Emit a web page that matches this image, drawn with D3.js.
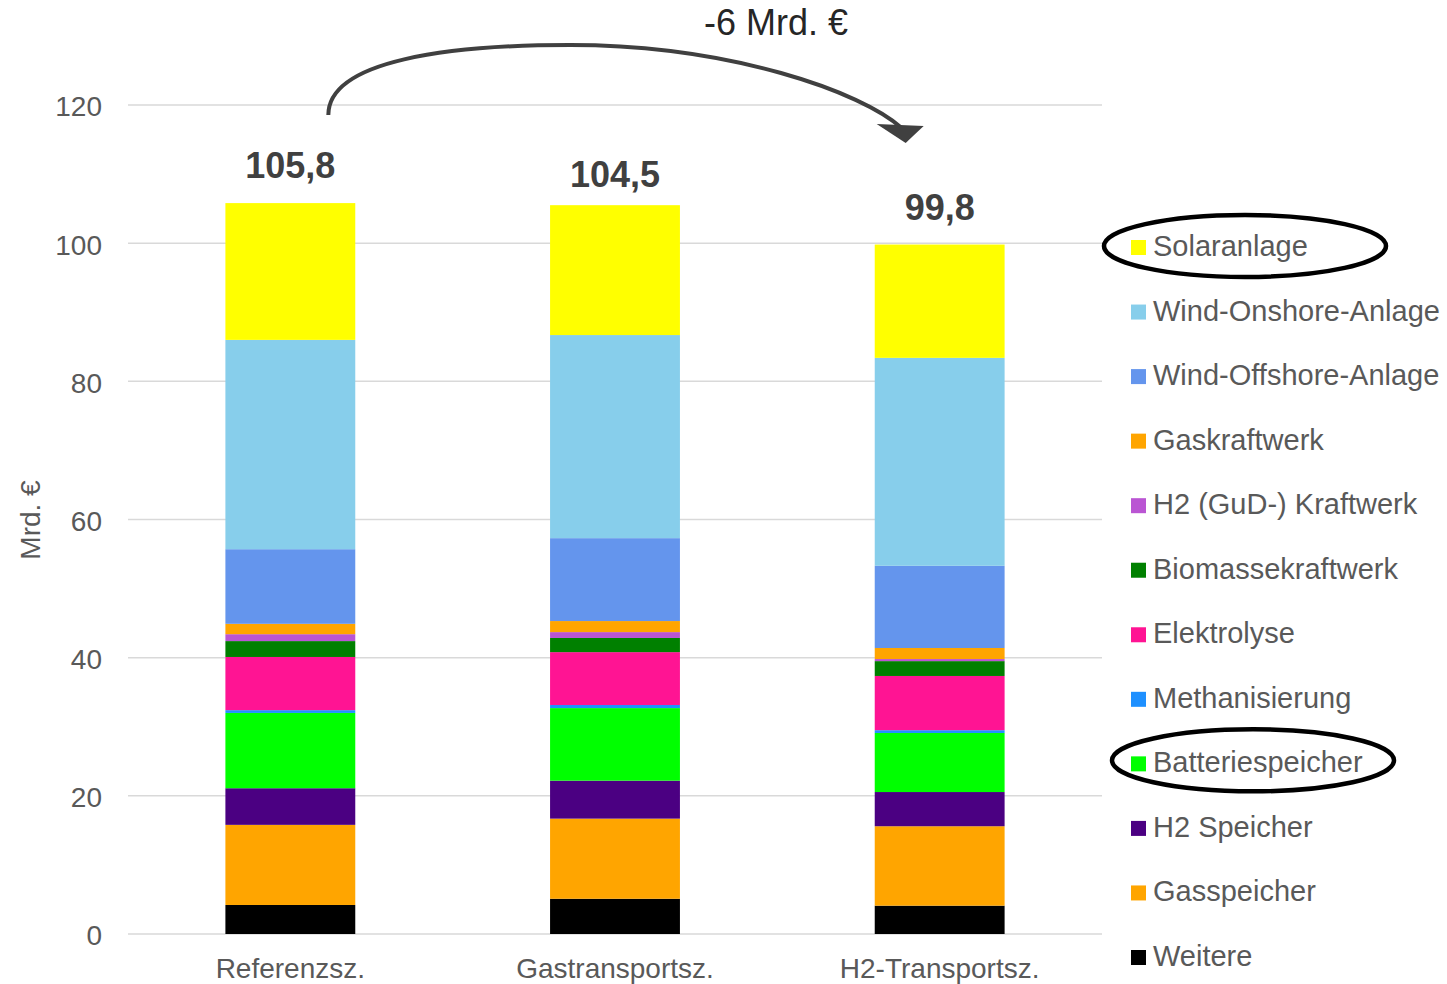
<!DOCTYPE html>
<html lang="de">
<head>
<meta charset="utf-8">
<title>Kosten nach Szenario</title>
<script src="https://cdn.jsdelivr.net/npm/d3@7"></script>
<style>
  body { margin: 0; background: #fff; }
  svg { display: block; font-family: "Liberation Sans", Arial, sans-serif; }
</style>
</head>
<body>
<svg id="chart" width="1447" height="984"></svg>
<script>
// categories (x axis)
var scenarios = ["Referenzsz.", "Gastransportsz.", "H2-Transportsz."];
// stack order, bottom to top
var series = ["Weitere", "Gasspeicher", "H2 Speicher", "Batteriespeicher", "Methanisierung",
  "Elektrolyse", "Biomassekraftwerk", "H2 (GuD-) Kraftwerk", "Gaskraftwerk",
  "Wind-Offshore-Anlage", "Wind-Onshore-Anlage", "Solaranlage"];
var colors = ["#000000", "#FFA500", "#4B0082", "#00FF00", "#1E90FF",
  "#FF1493", "#008000", "#BA55D3", "#FFA500",
  "#6495ED", "#87CEEB", "#FFFF00"];
// Mrd. € per series, one value per scenario
var weitere        = [4.2, 5.1, 4.1];
var gasspeicher    = [11.6, 11.6, 11.5];
var h2Speicher     = [5.3, 5.5, 4.95];
var batterie       = [10.9, 10.5, 8.55];
var methanisierung = [0.4, 0.45, 0.4];
var elektrolyse    = [7.7, 7.65, 7.85];
var biomasse       = [2.3, 2.05, 2.15];
var h2GuD          = [1.0, 0.85, 0.3];
var gaskraftwerk   = [1.5, 1.6, 1.6];
var windOffshore   = [10.8, 12.0, 11.9];
var windOnshore    = [30.3, 29.4, 30.1];
var solar          = [19.8, 18.8, 16.4];
// printed totals
var totals = [105.8, 104.5, 99.8];
var yTicks = [0, 20, 40, 60, 80, 100, 120];

var valueLists = [weitere, gasspeicher, h2Speicher, batterie, methanisierung, elektrolyse,
  biomasse, h2GuD, gaskraftwerk, windOffshore, windOnshore, solar];

/** build rows for d3.stack */
var rows = scenarios.map(function(s, i) {
  var r = { scenario: s };
  series.forEach(function(name, k) { r[name] = valueLists[k][i]; });
  return r;
});

var svg = d3.select("#chart");
var grey = "#595959";

var x = d3.scaleBand().domain(scenarios).range([128, 1102]).paddingInner(0.6).paddingOuter(0.3);
var y = d3.scaleLinear().domain([0, 120]).range([934, 105]);

/** gridlines */
svg.append("g").selectAll("line")
  .data(yTicks)
  .enter().append("line")
  .attr("x1", 128).attr("x2", 1102)
  .attr("y1", function(d) { return y(d); })
  .attr("y2", function(d) { return y(d); })
  .attr("stroke", "#d9d9d9").attr("stroke-width", 1.5);

/** y axis labels */
var yAxis = svg.append("g")
  .attr("transform", "translate(102,2)")
  .call(d3.axisLeft(y).tickValues(yTicks).tickSize(0).tickPadding(0));
yAxis.select(".domain").remove();
yAxis.selectAll("text")
  .attr("fill", grey).style("font-size", "28px").style("font-family", "Liberation Sans, Arial, sans-serif");

svg.append("text")
  .attr("transform", "translate(40,520) rotate(-90)")
  .attr("text-anchor", "middle")
  .attr("fill", grey).style("font-size", "28px")
  .text("Mrd. €");

/** x axis labels */
var xAxis = svg.append("g")
  .attr("transform", "translate(0,936)")
  .call(d3.axisBottom(x).tickSize(0).tickPadding(22));
xAxis.select(".domain").remove();
xAxis.selectAll("text")
  .attr("fill", grey).style("font-size", "28px").style("font-family", "Liberation Sans, Arial, sans-serif");

/** stacked bars */
var stacked = d3.stack().keys(series)(rows);
svg.append("g").selectAll("g")
  .data(stacked)
  .enter().append("g")
  .attr("fill", function(d, i) { return colors[i]; })
  .selectAll("rect")
  .data(function(d) { return d; })
  .enter().append("rect")
  .attr("x", function(d) { return x(d.data.scenario); })
  .attr("width", x.bandwidth())
  .attr("y", function(d) { return y(d[1]); })
  .attr("height", function(d) { return y(d[0]) - y(d[1]); });

/** totals above bars */
svg.append("g").selectAll("text")
  .data(totals)
  .enter().append("text")
  .attr("x", function(d, i) { return x(scenarios[i]) + x.bandwidth() / 2; })
  .attr("y", function(d) { return y(d) - 25; })
  .attr("text-anchor", "middle")
  .attr("fill", "#404040")
  .style("font-size", "36px").style("font-weight", "bold")
  .text(function(d) { return d3.format(".1f")(d).replace(".", ","); });

/** arrow between first and last scenario */
var ax0 = x(scenarios[0]) + x.bandwidth() / 2 + 38;
var ax1 = x(scenarios[2]) + x.bandwidth() / 2 - 36;
var arrow = d3.path();
arrow.moveTo(ax0, 115);
arrow.bezierCurveTo(ax0, 60, 450, 45, 570, 45);
arrow.bezierCurveTo(730, 45, 862, 92, ax1 - 2, 128);
svg.append("path")
  .attr("d", arrow.toString())
  .attr("fill", "none").attr("stroke", "#404040").attr("stroke-width", 4);
svg.append("path")
  .attr("d", "M" + (ax1 - 27) + ",124 L" + (ax1 + 20) + ",126 L" + (ax1 + 2) + ",143 Z")
  .attr("fill", "#404040");

svg.append("text")
  .attr("x", 776).attr("y", 35)
  .attr("text-anchor", "middle")
  .attr("fill", "#262626").style("font-size", "36px")
  .text("-6 Mrd. €");

/** legend, top item is last stacked series */
var legendItems = series.slice().reverse();
var legendColors = colors.slice().reverse();
var ly = d3.scalePoint().domain(legendItems).range([246, 956]);
var legend = svg.append("g").selectAll("g")
  .data(legendItems)
  .enter().append("g")
  .attr("transform", function(d) { return "translate(1131," + ly(d) + ")"; });
legend.append("rect")
  .attr("x", 0).attr("y", -6).attr("width", 15).attr("height", 15)
  .attr("fill", function(d, i) { return legendColors[i]; });
legend.append("text")
  .attr("x", 22).attr("y", 10)
  .attr("fill", grey).style("font-size", "29px")
  .text(function(d) { return d; });

/** highlight ellipses */
var circled = ["Solaranlage", "Batteriespeicher"];
svg.append("g").selectAll("ellipse")
  .data(circled)
  .enter().append("ellipse")
  .attr("cx", function(d, i) { return i === 0 ? 1245 : 1253; })
  .attr("cy", function(d) { return ly(d) - (d === "Batteriespeicher" ? 2 : 0); })
  .attr("rx", 141).attr("ry", 31)
  .attr("fill", "none").attr("stroke", "#000").attr("stroke-width", 4.5);
</script>
</body>
</html>
